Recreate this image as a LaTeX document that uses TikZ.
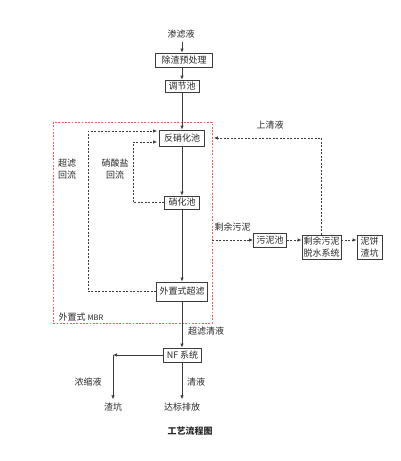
\documentclass[tikz,border=0pt]{standalone}
\usepackage{fontspec}
\setmainfont{Noto Sans CJK SC}
\usetikzlibrary{arrows.meta}
\definecolor{pfGray}{RGB}{60,60,60}
\definecolor{pfText}{RGB}{40,40,40}
\definecolor{pfRed}{RGB}{250,90,90}
\tikzset{
  box/.style={draw=pfGray, line width=0.7pt, text=pfText, inner xsep=3pt, inner ysep=1pt, minimum height=14pt, align=center},
  flow/.style={-{Latex[length=4pt,width=3.5pt]}, pfGray, line width=0.7pt},
  back/.style={flow, dash pattern=on 2pt off 1.5pt},
  lbl/.style={text=pfText, align=center},
}
\begin{document}
\begin{tikzpicture}[x=1pt, y=-1pt, font=\fontsize{9}{12}\selectfont]
  \useasboundingbox (0,0) rectangle (400,461);

  % MBR frame
  \coordinate (mbrNW) at (53,122);
  \coordinate (mbrSE) at (212,323);
  \draw[pfRed, line width=0.6pt, dash pattern=on 1.8pt off 1.5pt] (mbrNW) rectangle (mbrSE);
  \node[lbl, anchor=west] (mbr) at (55,317) {外置式 {\fontsize{7.5}{9}\selectfont MBR}};

  % Main line
  \node[lbl] (src) at (181,34) {渗滤液};
  \node[box, minimum width=57pt] (pre) at (184,60) {除渣预处理};
  \node[box, minimum width=34pt, minimum height=12pt] (tank) at (182,86) {调节池};
  \node[box, minimum width=45pt, minimum height=16pt] (denit) at (182,138) {反硝化池};
  \node[box, minimum width=35pt, minimum height=13pt] (nit) at (182,202.5) {硝化池};
  \node[box, minimum width=50pt, minimum height=19pt] (uf) at (182,291.5) {外置式超滤};
  \node[box, minimum width=37pt] (nf) at (182.5,355) {NF 系统};
  \node[lbl] (out) at (182,407) {达标排放};
  \node[lbl] (drain) at (113,407) {渣坑};

  \draw[flow] (src.south -| tank.north) -- (pre.north -| tank.north);
  \draw[flow] (pre.south -| tank.north) -- (tank.north);
  \draw[flow] (tank) -- (denit);
  \draw[flow] (denit) -- (nit);
  \draw[flow] (nit) -- (uf);
  \draw[flow] (uf) -- (nf.north -| uf.south);
  \draw[flow] (nf.south -| out.north) -- (out);
  \coordinate (nfL) at (drain.north |- nf.west);
  \draw[flow] (nf.west) -- (nfL);
  \draw[flow] (nfL) -- (drain);

  % Returns
  \draw[back, shorten >=2pt] (uf.west) -- ++(-68,0) |- ([yshift=7pt]denit.west);
  \draw[back, shorten >=2pt] (nit.west) -- ++(-31,0) |- ([yshift=-4pt]denit.west);
  \node[lbl] (ufret) at (67,169.5) {超滤\\回流};
  \node[lbl] (no3ret) at (115,169.5) {硝酸盐\\回流};

  % Sludge line
  \node[box, minimum width=32pt] (sludge) at (270,240) {污泥池};
  \node[box, minimum width=39pt, minimum height=24pt, inner xsep=1pt] (dewater) at (321.5,247) {剩余污泥\\脱水系统};
  \node[box, minimum width=25pt, minimum height=24pt, inner xsep=1pt] (cake) at (369.5,247) {泥饼\\渣坑};
  \coordinate (mbrR) at (mbrSE |- sludge.west);
  \draw[back] (mbrR) -- (sludge.west);
  \draw[back] (sludge.east) -- (sludge.east -| dewater.west);
  \draw[back] (sludge.east -| dewater.east) -- (sludge.east -| cake.west);
  \draw[back] (dewater.north) |- ([xshift=9pt]denit.east);
  \node[lbl, anchor=west] (waste) at (211,227) {剩余污泥};
  \node[lbl] (super) at (270,125) {上清液};

  % Labels
  \node[lbl] (ufout) at (206,331) {超滤清液};
  \node[lbl] (conc) at (88,382) {浓缩液};
  \node[lbl] (clear) at (196,382) {清液};
  \node[lbl, font=\fontsize{9}{12}\selectfont\bfseries] (title) at (190,431) {工艺流程图};
\end{tikzpicture}
\end{document}
